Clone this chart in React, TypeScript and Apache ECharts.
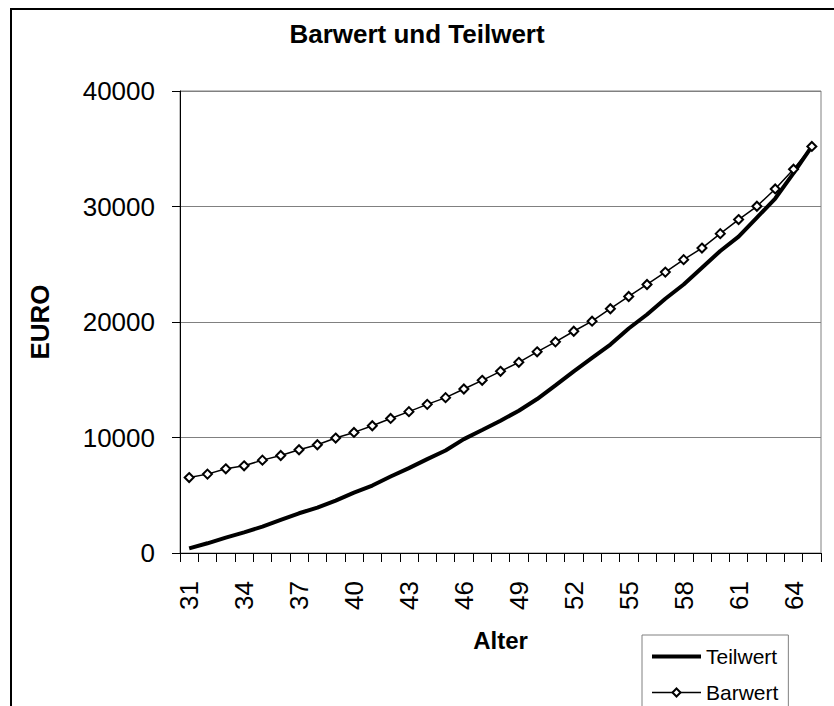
import React, { useEffect, useRef } from "react";
import * as echarts from "echarts";

const ages = [
  "31", "32", "33", "34", "35", "36", "37", "38", "39", "40",
  "41", "42", "43", "44", "45", "46", "47", "48", "49", "50",
  "51", "52", "53", "54", "55", "56", "57", "58", "59", "60",
  "61", "62", "63", "64", "65",
];

const teilwert = [
  400, 840, 1330, 1790, 2280, 2860, 3440, 3930, 4540, 5230,
  5840, 6620, 7350, 8130, 8880, 9860, 10650, 11450, 12320, 13330,
  14520, 15730, 16890, 18050, 19440, 20650, 22010, 23250, 24700, 26150,
  27390, 29040, 30690, 32890, 35200,
];

const barwert = [
  6530, 6830, 7290, 7550, 8040, 8440, 8940, 9370, 9950, 10440,
  11020, 11650, 12240, 12870, 13450, 14200, 14950, 15730, 16510, 17420,
  18280, 19200, 20070, 21150, 22210, 23250, 24320, 25400, 26400, 27650,
  28870, 30020, 31520, 33230, 35200,
];

const FONT = "'Liberation Sans', Arial, sans-serif";

export default function App() {
  const ref = useRef<HTMLDivElement>(null);

  useEffect(() => {
    if (!ref.current) return;
    const chart = echarts.init(ref.current, null, { renderer: "svg" });
    chart.setOption({
      animation: false,
      backgroundColor: "#ffffff",
      textStyle: { fontFamily: FONT },
      title: {
        text: "Barwert und Teilwert",
        left: "center",
        top: 21,
        padding: 0,
        textStyle: { fontSize: 26, fontWeight: "bold", color: "#000", fontFamily: FONT },
      },
      graphic: [
        {
          type: "rect",
          z: -10,
          shape: { x: 11, y: 9, width: 830, height: 720 },
          style: { fill: "none", stroke: "#000", lineWidth: 2 },
          silent: true,
        },
      ],
      legend: {
        orient: "vertical",
        left: 642,
        top: 635,
        height: 120,
        itemWidth: 49,
        itemHeight: 10,
        itemGap: 15,
        padding: [11, 10, 30, 8],
        borderColor: "#808080",
        borderWidth: 1,
        backgroundColor: "#ffffff",
        borderRadius: 0,
        textStyle: { fontSize: 21, color: "#000", fontFamily: FONT },
        data: [
          {
            name: "Teilwert",
            itemStyle: { color: "transparent", borderWidth: 0, opacity: 0 },
            lineStyle: { color: "#000", width: 4 },
          },
          {
            name: "Barwert",
            lineStyle: { color: "#000", width: 1.5 },
          },
        ],
      },
      grid: {
        left: 180,
        right: 13,
        top: 91,
        bottom: 153,
        show: true,
        borderColor: "#808080",
        borderWidth: 1,
        backgroundColor: "transparent",
        containLabel: false,
        outerBoundsMode: "none",
      },
      xAxis: {
        type: "category",
        data: ages,
        boundaryGap: true,
        name: "Alter",
        nameLocation: "middle",
        nameGap: 75,
        nameTextStyle: { fontSize: 24, fontWeight: "bold", color: "#000", fontFamily: FONT },
        axisLine: { show: true, lineStyle: { color: "#000", width: 1 } },
        axisTick: { show: true, interval: 0, length: 9, lineStyle: { color: "#000" } },
        axisLabel: {
          interval: 2,
          rotate: 90,
          fontSize: 26,
          color: "#000",
          margin: 28,
          fontFamily: FONT,
        },
        splitLine: { show: false },
      },
      yAxis: {
        type: "value",
        min: 0,
        max: 40000,
        interval: 10000,
        name: "EURO",
        nameLocation: "middle",
        nameGap: 127,
        nameTextStyle: { fontSize: 26, fontWeight: "bold", color: "#000", fontFamily: FONT },
        axisLine: { show: true, lineStyle: { color: "#000", width: 1 } },
        axisTick: { show: true, length: 8, lineStyle: { color: "#000" } },
        axisLabel: {
          fontSize: 26,
          color: "#000",
          margin: 25,
          fontFamily: FONT,
          formatter: (v: number) => String(v),
        },
        splitLine: { show: true, lineStyle: { color: "#808080", width: 1 } },
      },
      series: [
        {
          name: "Teilwert",
          type: "line",
          data: teilwert,
          symbol: "none",
          showSymbol: false,
          smooth: false,
          lineStyle: { color: "#000", width: 4 },
          itemStyle: { color: "#000" },
          z: 2,
        },
        {
          name: "Barwert",
          type: "line",
          data: barwert,
          symbol: "diamond",
          symbolSize: 9,
          showSymbol: true,
          lineStyle: { color: "#000", width: 1.5 },
          itemStyle: { color: "#ffffff", borderColor: "#000", borderWidth: 2 },
          z: 3,
        },
      ],
    });
    return () => chart.dispose();
  }, []);

  return (
    <div
      ref={ref}
      style={{ position: "fixed", left: 0, top: 0, width: 834, height: 706 }}
    />
  );
}
